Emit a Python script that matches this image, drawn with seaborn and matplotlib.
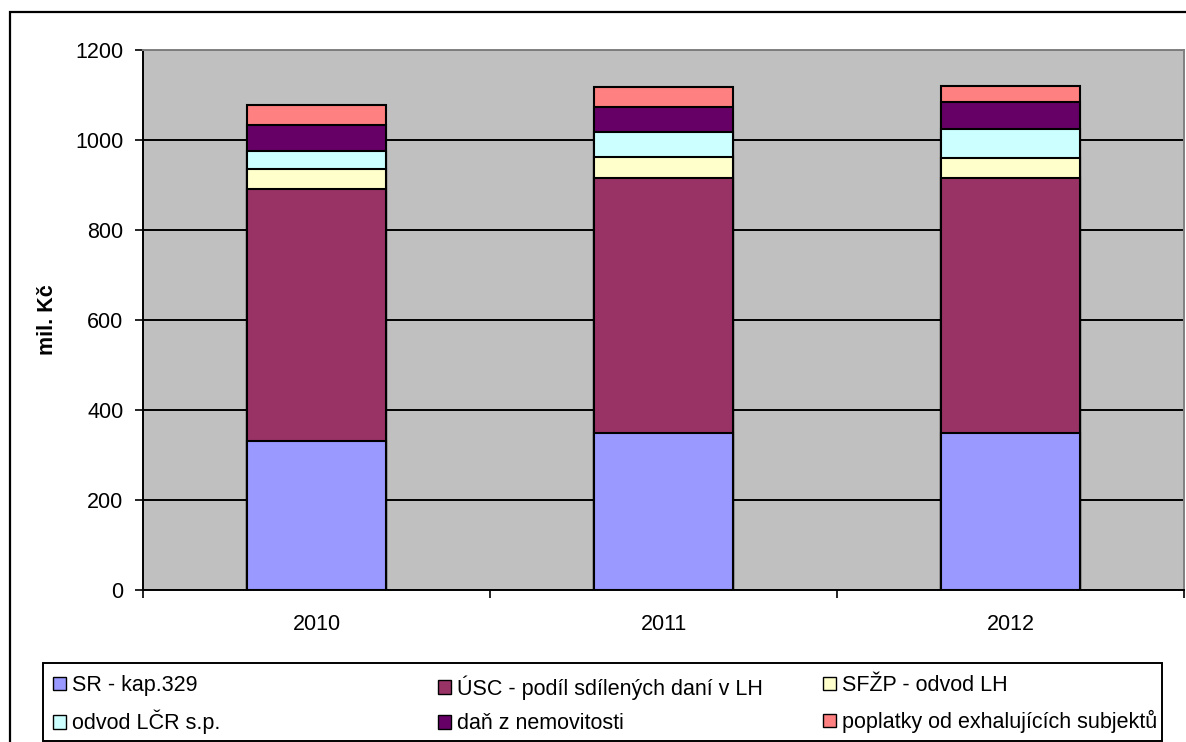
import matplotlib
matplotlib.use("Agg")
import matplotlib.pyplot as plt
from matplotlib.patches import Patch, Rectangle
import seaborn as sns
import numpy as np
import pandas as pd

years = ["2010", "2011", "2012"]
series_names = ["SR - kap.329", "ÚSC - podíl sdílených daní v LH", "SFŽP - odvod LH",
                "odvod LČR s.p.", "daň z nemovitosti", "poplatky od exhalujících subjektů"]
sr = [331, 349, 349]
usc = [561, 566, 566]
sfzp = [43, 48, 44]
lcr = [40, 55, 66]
dan = [59, 56, 60]
poplatky = [44, 43, 36]
colors = ["#9999FF", "#993366", "#FFFFCC", "#CCFFFF", "#660066", "#FF8080"]
y_ticks = [0, 200, 400, 600, 800, 1000, 1200]

sns.set_theme(style="white")
plt.rcParams["font.family"] = ["Liberation Sans", "DejaVu Sans"]
plt.rcParams["text.color"] = "black"

W, H = 1186, 742
fig = plt.figure(figsize=(W / 100, H / 100), dpi=100)
fig.patch.set_facecolor("white")

L, R, T, B = 143, 1184, 50, 590
ax = fig.add_axes([L / W, 1 - B / H, (R - L) / W, (B - T) / H])
ax.set_facecolor("#C0C0C0")

values = [sr, usc, sfzp, lcr, dan, poplatky]
cum = np.cumsum(np.array(values, dtype=float), axis=0)
df = pd.DataFrame({"year": years})
for i in range(len(values) - 1, -1, -1):
    df["v"] = cum[i]
    sns.barplot(data=df, x="year", y="v", color=colors[i], saturation=1,
                width=0.4, edgecolor="black", linewidth=1.5, ax=ax, zorder=3)

ax.set_ylim(0, 1200)
ax.set_xlim(-0.5, 2.5)
ax.set_yticks(y_ticks)
ax.set_yticklabels([str(t) for t in y_ticks], fontsize=15.5, color="black")
ax.yaxis.grid(True, color="black", linewidth=1.4, zorder=1)
ax.set_axisbelow(True)
ax.xaxis.grid(False)

ax.set_xticks([-0.5, 0.5, 1.5, 2.5])
ax.set_xticklabels([])
ax.set_xticks([0, 1, 2], minor=True)
ax.set_xticklabels(years, minor=True, fontsize=15.5, color="black")
ax.tick_params(axis="x", which="major", direction="out", length=6, width=1.2, color="black", bottom=True)
ax.tick_params(axis="x", which="minor", length=0, pad=17, bottom=True)
ax.tick_params(axis="y", direction="out", length=6, width=1.2, color="black", pad=8, left=True)

for s in ["left", "bottom"]:
    ax.spines[s].set_color("black")
    ax.spines[s].set_linewidth(1.4)
for s in ["top", "right"]:
    ax.spines[s].set_color("#808080")
    ax.spines[s].set_linewidth(1.4)

ax.set_xlabel("")
ax.set_ylabel("mil. Kč", fontsize=15.5, fontweight="bold", color="black")
ax.yaxis.set_label_coords((58 - L) / (R - L), 0.5)

# outer chart border (cropped on right and bottom)
fig.add_artist(Rectangle((10 / W, -0.05), 1.2, 1 - 12 / H + 0.05, transform=fig.transFigure,
                         fill=False, edgecolor="black", linewidth=1.6, clip_on=False))

# legend frame
lx0, lx1, ly0, ly1 = 43, 1162, 663, 741
fig.add_artist(Rectangle((lx0 / W, 1 - ly1 / H), (lx1 - lx0) / W, (ly1 - ly0) / H,
                         transform=fig.transFigure, fill=False, edgecolor="black",
                         linewidth=1.4, clip_on=False))

handles = [Patch(facecolor=c, edgecolor="black", linewidth=1.0) for c in colors]
col_x = [53, 438, 823]
col_items = [[0, 3], [1, 4], [2, 5]]
for cx, items in zip(col_x, col_items):
    fig.legend([handles[i] for i in items], [series_names[i] for i in items],
               loc="upper left", bbox_to_anchor=(cx / W, 1 - 675 / H),
               bbox_transform=fig.transFigure, frameon=False, labelcolor="black",
               fontsize=15.5, handlelength=0.6, handleheight=0.6,
               handletextpad=0.3, labelspacing=0.65, borderpad=0, borderaxespad=0)

fig.savefig("out.png", dpi=100)
